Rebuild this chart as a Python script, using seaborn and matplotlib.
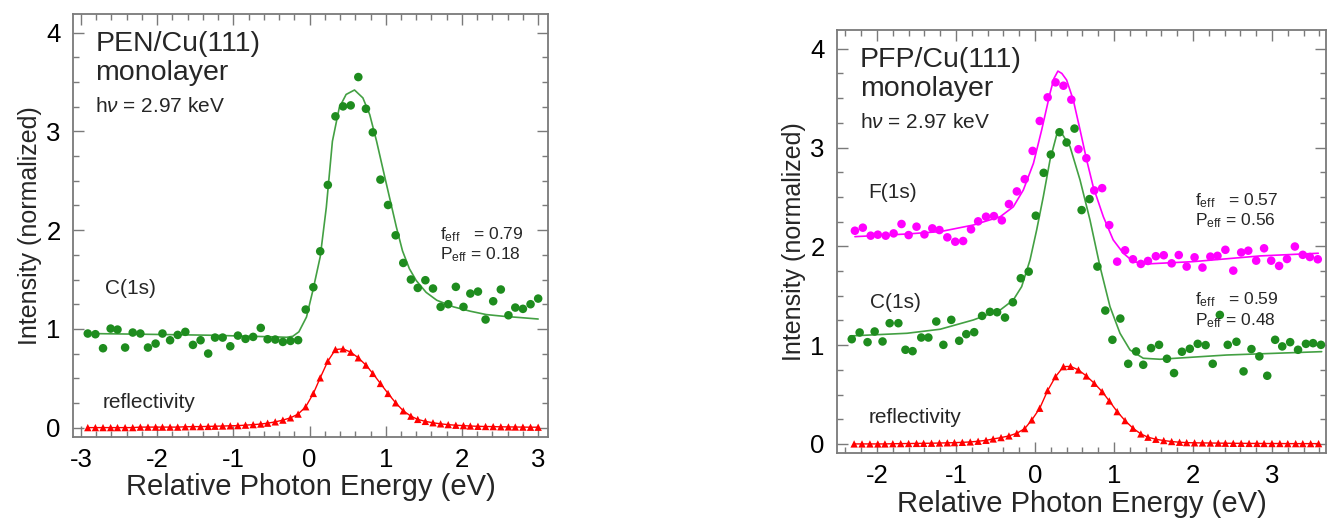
import numpy as np
import pandas as pd
import matplotlib
matplotlib.use("Agg")
import matplotlib.pyplot as plt
from matplotlib.ticker import MultipleLocator, FormatStrFormatter
import seaborn as sns

# ---------------- data: PEN/Cu(111) ----------------
pen_x = [-2.91, -2.81, -2.71, -2.61, -2.52, -2.42, -2.32, -2.22, -2.12, -2.02,
         -1.93, -1.83, -1.73, -1.63, -1.53, -1.43, -1.33, -1.24, -1.14, -1.04,
         -0.94, -0.84, -0.74, -0.64, -0.55, -0.45, -0.35, -0.25, -0.15, -0.05,
         0.05, 0.14, 0.24, 0.34, 0.44, 0.54, 0.64, 0.74, 0.83, 0.93,
         1.03, 1.13, 1.23, 1.33, 1.42, 1.52, 1.62, 1.72, 1.82, 1.92,
         2.02, 2.11, 2.21, 2.31, 2.41, 2.51, 2.61, 2.70, 2.80, 2.90, 3.00]
pen_c1s = [0.953, 0.946, 0.804, 1.003, 0.993, 0.811, 0.963, 0.953, 0.811, 0.851,
           0.953, 0.885, 0.939, 0.970, 0.838, 0.885, 0.750, 0.912, 0.912, 0.824,
           0.932, 0.899, 0.919, 1.010, 0.895, 0.892, 0.868, 0.878, 0.886, 1.196,
           1.422, 1.786, 2.458, 3.153, 3.254, 3.264, 3.551, 3.230, 2.991, 2.512,
           2.255, 1.948, 1.668, 1.500, 1.415, 1.493, 1.409, 1.223, 1.250, 1.426,
           1.223, 1.358, 1.378, 1.095, 1.280, 1.399, 1.138, 1.216, 1.203, 1.250, 1.307]
pen_refl = [0.0, 0.0, 0.0, 0.0, 0.0, 0.0, 0.0, 0.005, 0.005, 0.005,
            0.005, 0.005, 0.005, 0.008, 0.01, 0.01, 0.012, 0.014, 0.016, 0.018,
            0.02, 0.025, 0.03, 0.036, 0.045, 0.058, 0.076, 0.099, 0.137, 0.211,
            0.346, 0.504, 0.673, 0.791, 0.798, 0.764, 0.707, 0.633, 0.549, 0.447,
            0.346, 0.251, 0.17, 0.116, 0.083, 0.063, 0.049, 0.038, 0.03, 0.024,
            0.02, 0.016, 0.013, 0.011, 0.01, 0.008, 0.007, 0.006, 0.005, 0.004, 0.004]
pen_fit_x = [-2.91, -2.2, -1.32, -0.45, -0.30, -0.22, -0.14, -0.04, 0.044, 0.14,
             0.22, 0.30, 0.39, 0.48, 0.59, 0.70, 0.79, 0.88, 0.96, 1.05,
             1.14, 1.22, 1.31, 1.40, 1.53, 1.67, 1.89, 2.11, 2.32, 2.54, 2.76, 3.0]
pen_fit_y = [0.953, 0.946, 0.936, 0.919, 0.915, 0.925, 0.97, 1.12, 1.39, 1.73,
             2.23, 2.90, 3.24, 3.375, 3.42, 3.34, 3.17, 2.90, 2.63, 2.33,
             2.03, 1.79, 1.61, 1.49, 1.37, 1.29, 1.223, 1.179, 1.145, 1.128, 1.115, 1.10]

# ---------------- data: PFP/Cu(111) ----------------
pfp_f_x = [-2.28, -2.18, -2.08, -1.99, -1.89, -1.79, -1.69, -1.60, -1.50, -1.40,
           -1.30, -1.21, -1.11, -1.01, -0.91, -0.81, -0.72, -0.62, -0.52, -0.42,
           -0.33, -0.23, -0.13, -0.03, 0.06, 0.16, 0.26, 0.36, 0.46, 0.55,
           0.65, 0.75, 0.85, 0.94, 1.04, 1.14, 1.24, 1.34, 1.43, 1.53,
           1.63, 1.73, 1.82, 1.92, 2.02, 2.12, 2.22, 2.31, 2.41, 2.51,
           2.61, 2.70, 2.80, 2.90, 2.99, 3.09, 3.19, 3.29, 3.39, 3.48, 3.58]
pfp_f1s = [2.158, 2.189, 2.108, 2.118, 2.108, 2.131, 2.226, 2.114, 2.199, 2.121,
           2.182, 2.165, 2.091, 2.047, 2.054, 2.172, 2.253, 2.300, 2.306, 2.263,
           2.428, 2.556, 2.680, 2.966, 3.269, 3.508, 3.660, 3.626, 3.485, 2.983,
           2.892, 2.566, 2.589, 2.215, 1.845, 1.960, 1.869, 1.822, 1.852, 1.900,
           1.910, 1.828, 1.912, 1.795, 1.889, 1.785, 1.896, 1.904, 1.965, 1.754,
           1.938, 1.956, 1.855, 1.980, 1.855, 1.802, 1.872, 1.998, 1.914, 1.892, 1.869]
pfp_c_x = [-2.32, -2.22, -2.12, -2.03, -1.93, -1.84, -1.73, -1.64, -1.55, -1.44,
           -1.35, -1.25, -1.16, -1.06, -0.96, -0.87, -0.77, -0.67, -0.57, -0.48,
           -0.38, -0.28, -0.18, -0.08, 0.01, 0.11, 0.20, 0.31, 0.40, 0.50,
           0.59, 0.69, 0.79, 0.89, 0.98, 1.08, 1.18, 1.28, 1.37, 1.47,
           1.57, 1.67, 1.76, 1.86, 1.96, 2.06, 2.16, 2.25, 2.34, 2.44,
           2.55, 2.64, 2.74, 2.84, 2.94, 3.04, 3.13, 3.23, 3.33, 3.43, 3.52, 3.62]
pfp_c1s = [1.060, 1.128, 1.030, 1.138, 1.037, 1.222, 1.222, 0.953, 0.939, 1.077,
           1.077, 1.239, 1.003, 1.256, 1.044, 1.111, 1.131, 1.296, 1.337, 1.333,
           1.279, 1.434, 1.677, 1.744, 2.310, 2.744, 2.929, 3.155, 3.051, 3.192,
           2.367, 2.478, 1.795, 1.350, 1.054, 1.269, 0.811, 0.936, 0.801, 0.970,
           1.003, 0.862, 0.717, 0.933, 0.963, 1.013, 1.000, 0.811, 1.306, 1.003,
           1.034, 0.734, 0.960, 0.886, 0.690, 1.054, 0.987, 1.030, 0.953, 1.013, 1.020, 1.003]
pfp_r_x = [-2.29, -2.19, -2.09, -1.99, -1.90, -1.80, -1.70, -1.60, -1.50, -1.41,
           -1.31, -1.21, -1.11, -1.02, -0.92, -0.82, -0.72, -0.62, -0.53, -0.43,
           -0.33, -0.23, -0.13, -0.04, 0.06, 0.16, 0.26, 0.36, 0.45, 0.55,
           0.65, 0.75, 0.85, 0.94, 1.04, 1.14, 1.24, 1.34, 1.43, 1.53,
           1.63, 1.73, 1.83, 1.92, 2.02, 2.12, 2.22, 2.32, 2.41, 2.51,
           2.61, 2.71, 2.81, 2.90, 3.00, 3.10, 3.20, 3.30, 3.39, 3.49, 3.59]
pfp_refl = [0.0, 0.0, 0.0, 0.0, 0.0, 0.002, 0.003, 0.004, 0.005, 0.006,
            0.007, 0.009, 0.011, 0.013, 0.016, 0.02, 0.027, 0.036, 0.05, 0.064,
            0.081, 0.108, 0.155, 0.243, 0.361, 0.54, 0.681, 0.782, 0.785, 0.749,
            0.688, 0.614, 0.529, 0.435, 0.327, 0.236, 0.159, 0.101, 0.068, 0.047,
            0.034, 0.024, 0.017, 0.013, 0.011, 0.01, 0.009, 0.008, 0.007, 0.006,
            0.006, 0.005, 0.005, 0.004, 0.004, 0.004, 0.003, 0.003, 0.003, 0.003, 0.003]
pfp_ffit_x = [-2.28, -1.62, -1.20, -0.78, -0.44, -0.275, -0.148, -0.02, 0.085, 0.19,
              0.24, 0.29, 0.34, 0.40, 0.485, 0.57, 0.654, 0.738, 0.865, 0.99,
              1.118, 1.244, 1.414, 2.0, 2.85, 3.586]
pfp_ffit_y = [2.098, 2.125, 2.149, 2.216, 2.30, 2.40, 2.57, 2.84, 3.18, 3.55,
              3.70, 3.774, 3.75, 3.684, 3.48, 3.18, 2.874, 2.60, 2.30, 2.065,
              1.93, 1.845, 1.822, 1.845, 1.903, 1.93]
pfp_cfit_x = [-2.34, -1.62, -1.20, -0.78, -0.44, -0.275, -0.169, -0.063, 0.021, 0.105,
              0.19, 0.274, 0.30, 0.35, 0.443, 0.57, 0.696, 0.823, 0.949, 1.076,
              1.203, 1.371, 1.582, 2.427, 3.629]
pfp_cfit_y = [1.093, 1.12, 1.161, 1.255, 1.356, 1.457, 1.592, 1.862, 2.166, 2.503,
              2.874, 3.128, 3.165, 3.13, 3.01, 2.672, 2.267, 1.795, 1.39, 1.12,
              0.951, 0.867, 0.857, 0.90, 0.934]

GREEN = "#1e8c1e"
GREEN_LINE = "#43a043"
MAGENTA = "#ff00ff"
RED = "#ff0000"
GRAY = "#7a7a7a"

sns.set_theme(style="ticks")
plt.rcParams['font.family'] = ['Liberation Sans', 'DejaVu Sans']
plt.rcParams['mathtext.fontset'] = 'custom'
plt.rcParams['mathtext.rm'] = 'Liberation Sans'
plt.rcParams['mathtext.it'] = 'Liberation Sans:italic'
plt.rcParams['mathtext.bf'] = 'Liberation Sans:bold'
plt.rcParams['axes.unicode_minus'] = False

fig = plt.figure(figsize=(13.32, 5.18), dpi=100)
axL = fig.add_axes([0.05503, 0.1564, 0.3562, 0.8166])
axR = fig.add_axes([0.6286, 0.1249, 0.3669, 0.8172])


def draw_points(ax, x, y, color, marker, size, line=True):
    df = pd.DataFrame({"x": x, "y": y})
    if line:
        sns.lineplot(data=df, x="x", y="y", ax=ax, color=color, lw=1.0,
                     sort=False, estimator=None, zorder=2)
    sns.scatterplot(data=df, x="x", y="y", ax=ax, color=color, marker=marker,
                    s=size, edgecolor="none", linewidth=0, zorder=3)


def draw_fit(ax, x, y, color):
    df = pd.DataFrame({"x": x, "y": y})
    sns.lineplot(data=df, x="x", y="y", ax=ax, color=color, lw=1.2,
                 sort=False, estimator=None, zorder=2)


def style(ax, xlim, xticks):
    ax.set_xlim(*xlim)
    ax.set_ylim(-0.095, 4.19)
    ax.set_xticks(xticks)
    ax.set_yticks([0, 1, 2, 3, 4])
    ax.xaxis.set_major_formatter(FormatStrFormatter('%d'))
    ax.yaxis.set_major_formatter(FormatStrFormatter('%d'))
    ax.xaxis.set_minor_locator(MultipleLocator(0.2))
    ax.yaxis.set_minor_locator(MultipleLocator(0.25))
    ax.tick_params(which='both', direction='in', top=True, right=True,
                   color=GRAY, labelcolor='black')
    ax.tick_params(which='major', length=8, width=1.0, labelsize=18.5)
    ax.tick_params(axis='x', which='major', pad=8)
    ax.tick_params(axis='y', which='major', pad=9)
    ax.tick_params(which='minor', length=4.5, width=1.0)
    for s in ax.spines.values():
        s.set_visible(True)
        s.set_color(GRAY)
        s.set_linewidth(1.3)
    ax.set_xlabel('Relative Photon Energy (eV)', fontsize=21, labelpad=1)
    ax.set_ylabel('Intensity (normalized)', fontsize=18, labelpad=3)


# ---- left panel ----
draw_fit(axL, pen_fit_x, pen_fit_y, GREEN_LINE)
draw_points(axL, pen_x, pen_c1s, GREEN, "o", 38, line=False)
draw_points(axL, pen_x, pen_refl, RED, "^", 28, line=True)
style(axL, (-3.10, 3.126), [-3, -2, -1, 0, 1, 2, 3])

# ---- right panel ----
draw_fit(axR, pfp_ffit_x, pfp_ffit_y, MAGENTA)
draw_fit(axR, pfp_cfit_x, pfp_cfit_y, GREEN_LINE)
draw_points(axR, pfp_f_x, pfp_f1s, MAGENTA, "o", 38, line=False)
draw_points(axR, pfp_c_x, pfp_c1s, GREEN, "o", 38, line=False)
draw_points(axR, pfp_r_x, pfp_refl, RED, "^", 28, line=True)
style(axR, (-2.503, 3.684), [-2, -1, 0, 1, 2, 3])

for ax, name in ((axL, 'PEN/Cu(111)'), (axR, 'PFP/Cu(111)')):
    ax.text(0.046, 0.913, name, transform=ax.transAxes, fontsize=20.5, va='baseline')
    ax.text(0.046, 0.844, 'monolayer', transform=ax.transAxes, fontsize=20.5, va='baseline')
    ax.text(0.046, 0.768, r'h$\nu$ = 2.97 keV', transform=ax.transAxes,
            fontsize=15, va='baseline')

# left annotations
axL.text(-2.68, 1.358, 'C(1s)', fontsize=15, va='baseline')
axL.text(-2.71, 0.194, 'reflectivity', fontsize=15, va='baseline')
axL.text(1.71, 1.91, r'f$_{\rm eff}$   = 0.79', fontsize=12.5, va='baseline')
axL.text(1.71, 1.70, r'P$_{\rm eff}$ = 0.18', fontsize=12.5, va='baseline')

# right annotations
axR.text(-2.11, 2.49, 'F(1s)', fontsize=15, va='baseline')
axR.text(-2.09, 1.373, 'C(1s)', fontsize=15, va='baseline')
axR.text(-2.11, 0.21, 'reflectivity', fontsize=15, va='baseline')
axR.text(2.025, 2.42, r'f$_{\rm eff}$   = 0.57', fontsize=12.5, va='baseline')
axR.text(2.025, 2.215, r'P$_{\rm eff}$ = 0.56', fontsize=12.5, va='baseline')
axR.text(2.025, 1.41, r'f$_{\rm eff}$   = 0.59', fontsize=12.5, va='baseline')
axR.text(2.025, 1.205, r'P$_{\rm eff}$ = 0.48', fontsize=12.5, va='baseline')

fig.savefig("out.png", dpi=100)
